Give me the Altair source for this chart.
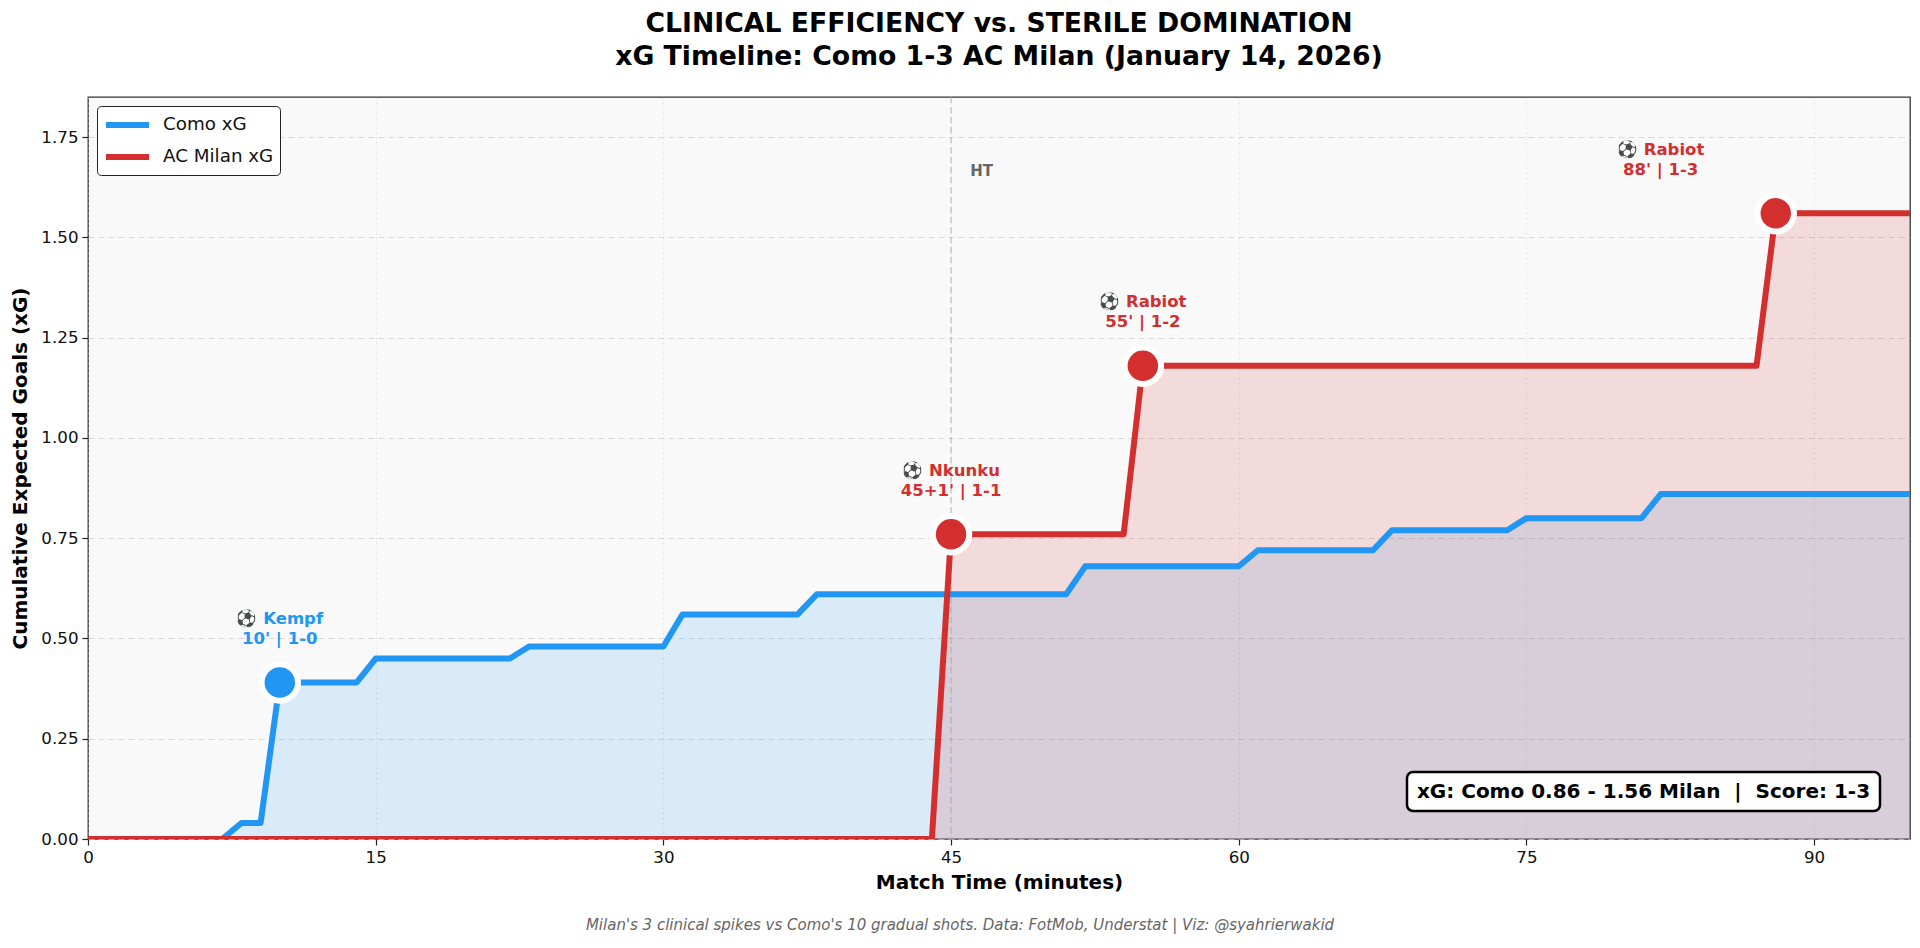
import altair as alt
import pandas as pd

# ---------- data ----------
como_min = [0, 7, 8, 9, 10, 14, 15, 22, 23, 30, 31, 37, 38, 51, 52, 60, 61, 67, 68, 74, 75, 81, 82, 95]
como_xg = [0, 0, 0.04, 0.04, 0.39, 0.39, 0.45, 0.45, 0.48, 0.48, 0.56, 0.56, 0.61, 0.61,
           0.68, 0.68, 0.72, 0.72, 0.77, 0.77, 0.80, 0.80, 0.86, 0.86]
milan_min = [0, 44, 45, 54, 55, 87, 88, 95]
milan_xg = [0, 0, 0.76, 0.76, 1.18, 1.18, 1.56, 1.56]

goal_min = [10, 45, 55, 88]
goal_xg = [0.39, 0.76, 1.18, 1.56]
goal_team = ["Como xG", "AC Milan xG", "AC Milan xG", "AC Milan xG"]
goal_scorer = ["Kempf", "Nkunku", "Rabiot", "Rabiot"]
goal_time = ["10'", "45+1'", "55'", "88'"]
goal_score = ["1-0", "1-1", "1-2", "1-3"]
label_min = [10, 45, 55, 82]

teams = ["Como xG", "AC Milan xG"]
team_colors = ["#2196F3", "#D32F2F"]
ht_min = 45
y_max = 1.85
final_score = "1-3"

FONT = "DejaVu Sans"

# ---------- tables ----------
lines = pd.DataFrame({
    "minute": como_min + milan_min,
    "xg": como_xg + milan_xg,
    "team": [teams[0]] * len(como_min) + [teams[1]] * len(milan_min),
})
goals = pd.DataFrame({
    "minute": goal_min,
    "label_min": label_min,
    "xg": goal_xg,
    "team": goal_team,
    "label": [f"\u26bd {s}\n{t} | {sc}" for s, t, sc in zip(goal_scorer, goal_time, goal_score)],
})
ht = pd.DataFrame({"minute": [ht_min], "label_min": [ht_min + 1], "xg": [y_max * 0.9], "label": ["HT"]})
stats = pd.DataFrame({"label": [
    f"xG: Como {como_xg[-1]:.2f} - {milan_xg[-1]:.2f} Milan \u00a0|\u00a0 Score: {final_score}"]})
caption = pd.DataFrame({"label": [
    "Milan's 3 clinical spikes vs Como's 10 gradual shots. Data: FotMob, Understat | Viz: @syahrierwakid"]})

# ---------- shared encodings ----------
x_scale = alt.Scale(domain=[0, 95], nice=False, zero=False)
y_scale = alt.Scale(domain=[0, y_max], nice=False)
x_axis = alt.Axis(values=[0, 15, 30, 45, 60, 75, 90], title="Match Time (minutes)",
                  gridDash=[2, 3], gridOpacity=0.45)
y_axis = alt.Axis(values=[0, 0.25, 0.5, 0.75, 1.0, 1.25, 1.5, 1.75], format=".2f",
                  title="Cumulative Expected Goals (xG)", gridDash=[6, 4], gridOpacity=0.7)


def X(field):
    return alt.X(f"{field}:Q", scale=x_scale, axis=x_axis)


def Y(field):
    return alt.Y(f"{field}:Q", scale=y_scale, axis=y_axis)


fill_scale = alt.Scale(domain=teams, range=team_colors)

base = alt.Chart(lines)

# filled areas under each curve
areas = [
    base.transform_filter(alt.datum.team == t).mark_area(color=c, opacity=0.15, clip=True)
    .encode(x=X("minute"), y=Y("xg"))
    for t, c in zip(teams, team_colors)
]

ht_rule = alt.Chart(ht).mark_rule(color="#aaaaaa", strokeDash=[6, 4], strokeWidth=1.5, opacity=0.6).encode(
    x=X("minute"))
ht_text = alt.Chart(ht).mark_text(align="left", baseline="middle", fontSize=15, fontWeight="bold",
                                  color="#666666", font=FONT).encode(
    x=X("label_min"), y=Y("xg"), text="label:N")

xg_lines = base.mark_line(strokeWidth=6, strokeJoin="round", clip=True).encode(
    x=X("minute"), y=Y("xg"),
    color=alt.Color("team:N", scale=alt.Scale(domain=teams, range=team_colors),
                    legend=alt.Legend(title=None, orient="top-left", offset=9, padding=6,
                                      strokeColor="#222222", fillColor="white", cornerRadius=4,
                                      labelFontSize=18.3, labelFont=FONT, labelColor="#111111",
                                      symbolType="M-1,0L3.3,0", symbolSize=400, symbolStrokeWidth=6,
                                      labelOffset=34, rowPadding=7)),
    detail="team:N",
)

markers = alt.Chart(goals).mark_circle(size=1330, stroke="white", strokeWidth=6, opacity=1).encode(
    x=X("minute"), y=Y("xg"), fill=alt.Fill("team:N", scale=fill_scale, legend=None))

goal_text = alt.Chart(goals).mark_text(fontSize=16.5, fontWeight="bold", font=FONT, lineBreak="\n",
                                       lineHeight=20, baseline="middle", dy=-63.5).encode(
    x=X("label_min"), y=Y("xg"), text="label:N",
    fill=alt.Fill("team:N", scale=fill_scale, legend=None))

stats_box = alt.Chart(stats).mark_rect(fill="white", stroke="black", strokeWidth=2.5, cornerRadius=6).encode(
    x=alt.value(1319), x2=alt.value(1792), y=alt.value(675), y2=alt.value(714))
stats_text = alt.Chart(stats).mark_text(fontSize=20, fontWeight="bold", font=FONT, color="black",
                                        baseline="middle", align="center").encode(
    x=alt.value(1555.5), y=alt.value(694.5), text="label:N")

caption_text = alt.Chart(caption).mark_text(fontSize=15, fontStyle="italic", font=FONT, color="#666666",
                                            baseline="middle", align="center").encode(
    x=alt.value(872), y=alt.value(828), text="label:N")

chart = alt.layer(
    *areas, ht_rule, ht_text, xg_lines, markers, goal_text, stats_box, stats_text, caption_text
).properties(
    width=1822, height=742,
    autosize=alt.AutoSizeParams(type="none"),
    padding={"left": 80, "top": 89, "right": 2, "bottom": 96},
    title=alt.TitleParams(
        text=["CLINICAL EFFICIENCY vs. STERILE DOMINATION",
              "xG Timeline: Como 1-3 AC Milan (January 14, 2026)"],
        fontSize=26.7, fontWeight="bold", font=FONT, color="black", lineHeight=33,
        anchor="middle", offset=26),
).configure(
    background="white",
).configure_view(
    fill="#f9f9f9", stroke="#333333", strokeWidth=1.3,
).configure_axis(
    domain=False, labelFont=FONT, labelFontSize=16.7, labelColor="#111111", labelFlush=False,
    titleFont=FONT, titleFontSize=20, titleFontWeight="bold", titleColor="black",
    tickColor="#222222", tickSize=6, tickWidth=1.2,
    grid=True, gridColor="#cccccc", gridWidth=1,
).configure_axisX(
    labelPadding=4, titlePadding=7,
).configure_axisY(
    labelPadding=4, titlePadding=10,
)

chart.save("out.html", embed_options={"renderer": "svg", "actions": False})
